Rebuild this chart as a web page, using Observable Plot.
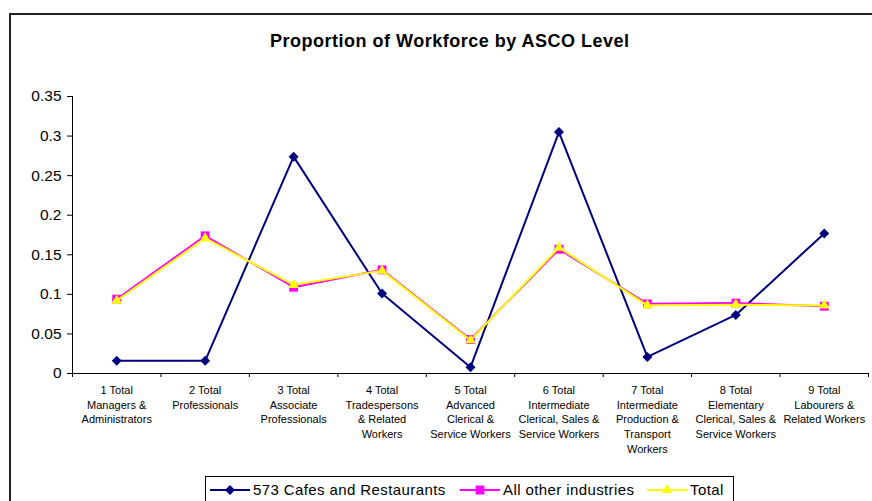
<!DOCTYPE html>
<html><head><meta charset="utf-8">
<script src="https://cdn.jsdelivr.net/npm/d3@7"></script>
<script src="https://cdn.jsdelivr.net/npm/@observablehq/plot@0.6"></script>
<style>
html,body{margin:0;padding:0;background:#fff;width:872px;height:501px;overflow:hidden;font-family:"Liberation Sans",Arial,sans-serif;}
#frame{position:absolute;left:9px;top:13px;width:1000px;height:1000px;border:2px solid #222;box-sizing:border-box;}
#title{position:absolute;left:270px;top:31px;font-weight:bold;font-size:18px;letter-spacing:0.5px;color:#000;white-space:nowrap;}
#chart{position:absolute;left:0;top:0;}
#legend{position:absolute;left:205px;top:476px;width:529px;height:40px;border:1px solid #000;box-sizing:border-box;background:#fff;font-size:15px;letter-spacing:0.4px;}
.item{position:absolute;top:4px;display:flex;align-items:center;white-space:nowrap;}
.item svg{margin-right:3px;}
</style></head>
<body>
<div id="frame"></div>
<div id="chart"></div>
<div id="title">Proportion of Workforce by ASCO Level</div>
<div id="legend"></div>
<script>
const categories = [
  "1 Total\nManagers &\nAdministrators",
  "2 Total\nProfessionals",
  "3 Total\nAssociate\nProfessionals",
  "4 Total\nTradespersons\n& Related\nWorkers",
  "5 Total\nAdvanced\nClerical &\nService Workers",
  "6 Total\nIntermediate\nClerical, Sales &\nService Workers",
  "7 Total\nIntermediate\nProduction &\nTransport\nWorkers",
  "8 Total\nElementary\nClerical, Sales &\nService Workers",
  "9 Total\nLabourers &\nRelated Workers"
];
const cafes = [0.016, 0.016, 0.274, 0.101, 0.008, 0.305, 0.021, 0.074, 0.177];
const otherIndustries = [0.094, 0.174, 0.109, 0.131, 0.043, 0.157, 0.088, 0.089, 0.085];
const total = [0.092, 0.171, 0.112, 0.130, 0.042, 0.159, 0.086, 0.087, 0.086];
const yTicks = [0, 0.05, 0.1, 0.15, 0.2, 0.25, 0.3, 0.35];
const seriesNames = ["573 Cafes and Restaurants", "All other industries", "Total"];
const seriesColors = ["#000080", "#FF00FF", "#FFFF00"];
const seriesSymbols = ["diamond2", "square", "triangle"];
const seriesR = [4.5, 5, 3.9];

const seriesValues = [cafes, otherIndustries, total];
const idx = categories.map((c, i) => i + 1);
const xDomain = [0.5, categories.length + 0.5];
const boundaries = d3.range(xDomain[0], xDomain[1] + 0.01, 1);

const marks = [
  Plot.axisY({ticks: yTicks, tickFormat: d => String(+d.toFixed(2)), tickSize: 5, tickPadding: 6, fontSize: 15.5, label: null}),
  Plot.axisX({ticks: boundaries, tickFormat: () => "", tickSize: 4, label: null}),
  Plot.axisX({ticks: idx, tickFormat: i => categories[i - 1], tickSize: 0, tickPadding: 10, lineHeight: 1.34, fontSize: 11, label: null}),
  Plot.ruleX([xDomain[0]], {stroke: "#000"}),
  Plot.ruleY([0], {stroke: "#000"})
];
seriesValues.forEach((vals, s) => {
  const d = vals.map((v, i) => ({x: i + 1, y: v}));
  marks.push(Plot.line(d, {x: "x", y: "y", stroke: seriesColors[s], strokeWidth: 2}));
  marks.push(Plot.dot(d, {x: "x", y: "y", symbol: seriesSymbols[s], fill: seriesColors[s], r: seriesR[s], stroke: "none"}));
});

const chart = Plot.plot({
  width: 872, height: 470,
  marginLeft: 72, marginRight: 4, marginTop: 96, marginBottom: 97,
  x: {domain: xDomain},
  y: {domain: [0, 0.35]},
  style: {fontFamily: '"Liberation Sans", Arial, sans-serif', fontSize: "11px", color: "#000", background: "transparent"},
  marks
});
document.getElementById("chart").appendChild(chart);

// legend
const legend = document.getElementById("legend");
const lefts = [4, 254, 441];
seriesNames.forEach((name, s) => {
  const item = document.createElement("div");
  item.className = "item";
  item.style.left = lefts[s] + "px";
  const symType = [d3.symbolDiamond2, d3.symbolSquare, d3.symbolTriangle][s];
  const size = Math.PI * seriesR[s] * seriesR[s];
  const path = d3.symbol(symType, size)();
  item.innerHTML = `<svg width="40" height="16"><line x1="0" x2="40" y1="8" y2="8" stroke="${seriesColors[s]}" stroke-width="2"/><path transform="translate(20,8)" d="${path}" fill="${seriesColors[s]}"/></svg><span>${name}</span>`;
  legend.appendChild(item);
});
</script>
</body></html>
